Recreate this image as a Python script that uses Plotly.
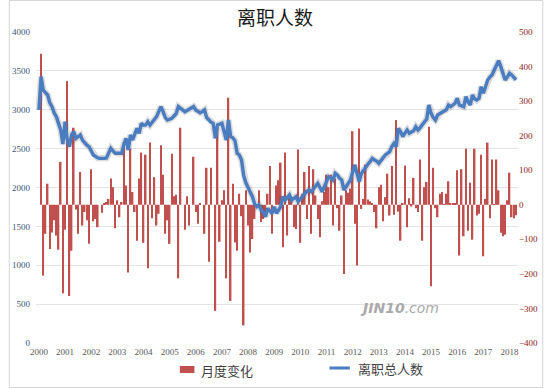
import plotly.graph_objects as go

years = [str(y) for y in range(2000, 2019)]
month_idx = list(range(220))
year_tick_pos = list(range(0, 217, 12))

# 离职总人数 (left axis), monthly Jan 2000 - Apr 2018
total_2000 = [2997, 3425, 3250, 3211, 3190, 3090, 3040, 2960, 2911, 2825, 2740, 2560]
total_2001 = [2846, 2620, 2525, 2680, 2718, 2632, 2660, 2675, 2610, 2568, 2545, 2525]
total_2002 = [2470, 2418, 2400, 2380, 2375, 2370, 2375, 2380, 2440, 2504, 2470, 2440]
total_2003 = [2440, 2440, 2440, 2560, 2632, 2482, 2675, 2611, 2700, 2761, 2697, 2826]
total_2004 = [2800, 2804, 2846, 2804, 2840, 2868, 2911, 2975, 3040, 2975, 2900, 2868]
total_2005 = [2875, 2890, 2920, 2950, 3040, 3018, 3000, 2975, 2990, 3010, 3030, 3040]
total_2006 = [2997, 2980, 2960, 2975, 2997, 2900, 2868, 2840, 2826, 2632, 2804, 2815]
total_2007 = [2826, 2720, 2611, 2868, 2654, 2640, 2600, 2440, 2418, 2354, 2150, 2060]
total_2008 = [2010, 1940, 1882, 1790, 1753, 1775, 1711, 1680, 1625, 1732, 1700, 1668]
total_2009 = [1753, 1668, 1710, 1753, 1882, 1839, 1870, 1903, 1839, 1860, 1882, 1818]
total_2010 = [1850, 1882, 1925, 1950, 1968, 1946, 1980, 2010, 2054, 2000, 1946, 2010]
total_2011 = [2080, 2139, 2120, 2096, 2182, 2161, 2120, 2096, 1968, 2010, 2054, 2096]
total_2012 = [2200, 2289, 2182, 2075, 2180, 2225, 2268, 2300, 2332, 2375, 2354, 2340]
total_2013 = [2311, 2350, 2375, 2418, 2440, 2461, 2525, 2568, 2525, 2761, 2718, 2654]
total_2014 = [2700, 2740, 2697, 2718, 2730, 2782, 2740, 2770, 2804, 2846, 2880, 3061]
total_2015 = [2954, 2900, 2868, 2933, 2950, 2975, 2990, 3000, 3061, 3040, 3061, 3083]
total_2016 = [3147, 3061, 3050, 3040, 3168, 3100, 3061, 3190, 3140, 3125, 3147, 3297]
total_2017 = [3211, 3300, 3383, 3420, 3447, 3511, 3580, 3631, 3554, 3470, 3383, 3420]
total_2018 = [3468, 3447, 3420, 3383]

# 月度变化 (right axis)
chg_2000 = [0, 437, -205, -84, 61, -128, -80, -45, -89, -130, 124, -256]
chg_2001 = [-72, 358, -264, -133, 223, -14, -84, 95, -60, -21, -45, -113]
chg_2002 = [103, -48, -41, -65, 0, -23, 3, 8, 17, 76, 51, -68]
chg_2003 = [13, -36, 8, 168, 56, -196, 163, 37, -21, -104, 76, 151]
chg_2004 = [-110, 145, -184, 180, -39, 80, -60, -26, 172, 87, -84, -45]
chg_2005 = [-113, 148, 25, 29, -213, 223, 0, -72, 25, -60, 0, 139]
chg_2006 = [-21, -55, 3, 0, -84, 107, -165, 107, 0, -307, 223, -107]
chg_2007 = [13, 42, -213, 310, -278, 61, -109, -133, 32, -33, -349, 42]
chg_2008 = [-60, -138, -99, -41, 0, 42, -50, -41, -21, 32, 112, -84]
chg_2009 = [0, 56, 71, 122, -123, 151, -89, 32, 13, -65, -70, 160]
chg_2010 = [-110, 32, 95, -41, 112, -84, 103, 27, -41, -94, 10, 37]
chg_2011 = [87, 51, 87, -60, 76, -10, -75, 27, -200, 42, 35, 47]
chg_2012 = [213, -55, -176, 221, -12, 17, 116, 15, 10, 5, -21, -68]
chg_2013 = [51, 58, -48, 22, 90, -31, 112, -29, 245, -20, -104, 5]
chg_2014 = [114, -65, 19, -5, 78, -10, -21, 131, -104, 51, 66, 226]
chg_2015 = [-236, 107, -10, -36, 32, 37, 2, 32, 68, 3, 3, 5]
chg_2016 = [100, -147, 103, -91, 162, -75, 64, -101, 162, -31, -26, 145]
chg_2017 = [-149, 17, 180, -39, 131, 2, 131, 42, -81, -91, -87, 13]
chg_2018 = [93, -36, -39, -30]

total = (total_2000 + total_2001 + total_2002 + total_2003 + total_2004 + total_2005 +
         total_2006 + total_2007 + total_2008 + total_2009 + total_2010 + total_2011 +
         total_2012 + total_2013 + total_2014 + total_2015 + total_2016 + total_2017 + total_2018)
change = (chg_2000 + chg_2001 + chg_2002 + chg_2003 + chg_2004 + chg_2005 +
          chg_2006 + chg_2007 + chg_2008 + chg_2009 + chg_2010 + chg_2011 +
          chg_2012 + chg_2013 + chg_2014 + chg_2015 + chg_2016 + chg_2017 + chg_2018)

L, R, T, B = 28, 524, 32, 343
def px(x):
    return (x - L) / (R - L)
def py(y):
    return (B - y) / (B - T)

fig = go.Figure()
fig.add_trace(go.Bar(x=month_idx, y=change, name="月度变化", yaxis="y",
                     marker=dict(color="#c0504d", line=dict(width=0))))
fig.add_trace(go.Scatter(x=month_idx, y=total, yaxis="y2", mode="lines",
                         line=dict(color="rgba(60,60,80,0.18)", width=6.5),
                         showlegend=False, hoverinfo="skip"))
fig.add_trace(go.Scatter(x=month_idx, y=total, name="离职总人数", yaxis="y2",
                         mode="lines", line=dict(color="#4a7dc0", width=3.4)))

tickfont = dict(family="Liberation Serif", size=9)
legend_font = dict(family="Noto Sans CJK SC", size=13, color="#404040")
fig.update_layout(
    width=550, height=388,
    margin=dict(l=L, r=550 - R, t=T, b=388 - B),
    paper_bgcolor="white", plot_bgcolor="white",
    bargap=0.28,
    showlegend=False,
    title=dict(text="离职人数", x=0.5, xref="container", xanchor="center",
               y=1 - 18 / 388, yref="container", yanchor="middle",
               font=dict(family="Noto Sans CJK SC", size=19, color="#1a1a1a")),
    xaxis=dict(range=[-1.34, 219.9], tickvals=year_tick_pos, ticktext=years,
               showgrid=False, zeroline=False, showline=False, ticks="",
               ticklabelstandoff=2,
               tickfont=dict(tickfont, color="#595959")),
    yaxis=dict(side="right", range=[-400, 500], dtick=100, showgrid=False,
               zeroline=False, ticks="", tickfont=dict(tickfont, color="#8b1a1a")),
    yaxis2=dict(side="left", overlaying="y", range=[0, 4000], dtick=500,
                showgrid=True, gridcolor="#e3e3e3", gridwidth=1, zeroline=False,
                ticks="", ticklabelstandoff=5,
                tickfont=dict(tickfont, color="#3b5577")),
    annotations=[
        dict(text="<b><i>JIN10</i></b><i>.com</i>", x=px(445), y=py(318),
             xref="paper", yref="paper", showarrow=False,
             font=dict(family="DejaVu Sans", size=14, color="#a9a9a9")),
        dict(text="月度变化", x=px(196), y=py(370), xref="paper", yref="paper",
             xanchor="left", yanchor="middle", showarrow=False, font=legend_font),
        dict(text="离职总人数", x=px(357), y=py(368), xref="paper", yref="paper",
             xanchor="left", yanchor="middle", showarrow=False, font=legend_font),
    ],
    shapes=[
        dict(type="rect", xref="paper", yref="paper",
             x0=px(0.5), x1=px(549.5), y0=py(387.5), y1=py(0.5),
             line=dict(color="#d6d6d6", width=1), layer="below"),
        dict(type="rect", xref="paper", yref="paper",
             x0=px(176), x1=px(191), y0=py(373), y1=py(366),
             fillcolor="#c0504d", line=dict(width=0)),
        dict(type="line", xref="paper", yref="paper",
             x0=px(330), x1=px(351), y0=py(368), y1=py(368),
             line=dict(color="#4a7dc0", width=3)),
    ],
)

fig.write_html("out.html", config={"displayModeBar": False},
               post_script="document.body.style.margin='0';document.body.style.overflow='hidden';")
